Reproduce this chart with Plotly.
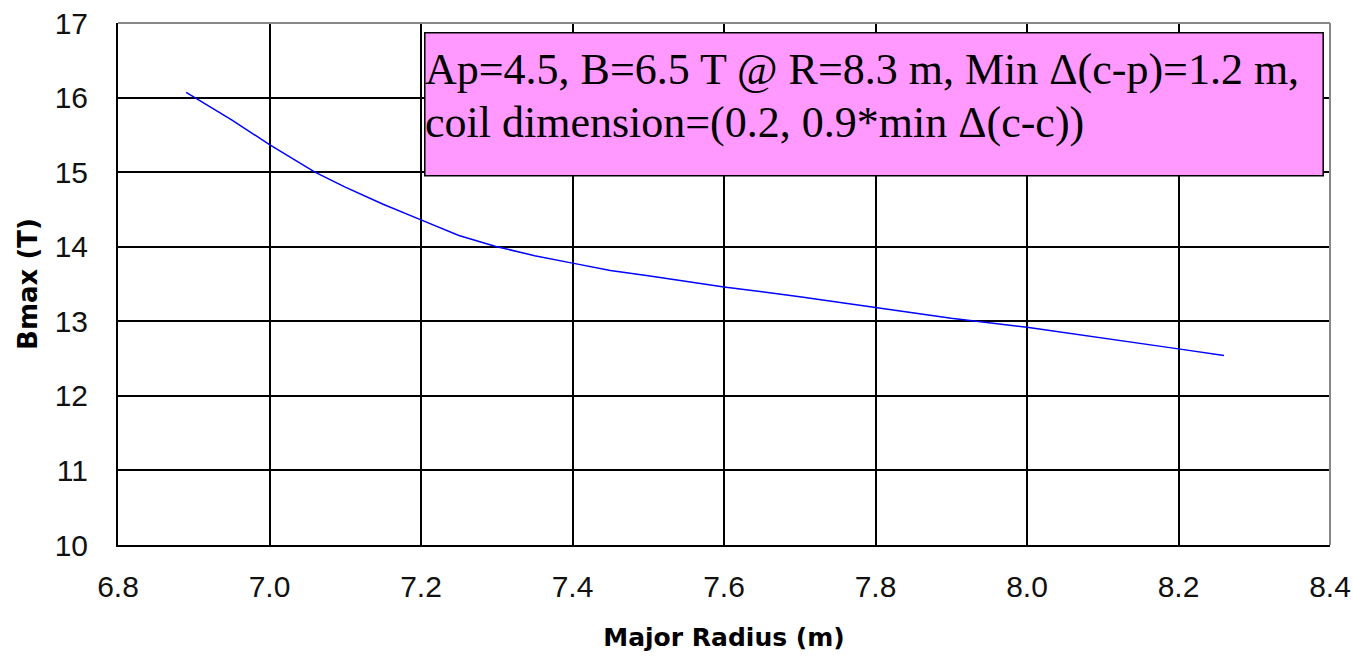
import plotly.graph_objects as go

radius = [6.89, 6.95, 7.0, 7.06, 7.1, 7.15, 7.2, 7.25, 7.3, 7.35, 7.4, 7.45, 7.5,
          7.6, 7.7, 7.8, 7.9, 8.0, 8.1, 8.2, 8.26]
bmax = [16.07, 15.70, 15.37, 15.0, 14.80, 14.57, 14.36, 14.15, 14.0, 13.88, 13.78, 13.68, 13.61,
        13.46, 13.33, 13.19, 13.04, 12.92, 12.78, 12.63, 12.54]

x_ticks = [6.8, 7.0, 7.2, 7.4, 7.6, 7.8, 8.0, 8.2, 8.4]
x_tick_labels = ["6.8", "7.0", "7.2", "7.4", "7.6", "7.8", "8.0", "8.2", "8.4"]
y_ticks = [10, 11, 12, 13, 14, 15, 16, 17]

note_line1 = "Ap=4.5, B=6.5 T @ R=8.3 m, Min \u0394(c-p)=1.2 m,"
note_line2 = "coil dimension=(0.2, 0.9*min \u0394(c-c))"

fig = go.Figure()
fig.add_trace(go.Scatter(x=radius, y=bmax, mode="lines",
                         line=dict(color="#0000FF", width=1.5), showlegend=False))

fig.add_shape(type="rect", xref="x", yref="y", x0=7.205, x1=8.391, y0=14.95, y1=16.87,
              fillcolor="#FF99FF", line=dict(color="black", width=1.5), layer="above")
fig.add_annotation(x=7.203, y=16.37, xref="x", yref="y", text=note_line1, showarrow=False,
                   xanchor="left", yanchor="middle",
                   font=dict(family="Liberation Serif", size=44, color="black"))
fig.add_annotation(x=7.203, y=15.67, xref="x", yref="y", text=note_line2, showarrow=False,
                   xanchor="left", yanchor="middle",
                   font=dict(family="Liberation Serif", size=44, color="black"))

fig.update_layout(
    width=1353, height=660,
    margin=dict(l=118, r=23, t=23, b=115, autoexpand=False),
    paper_bgcolor="white", plot_bgcolor="white",
    font=dict(family="Liberation Sans", size=30, color="#111"),
)
fig.update_xaxes(range=[6.8, 8.4], tickvals=x_ticks, ticktext=x_tick_labels,
                 showgrid=True, gridcolor="black", gridwidth=2,
                 showline=True, linecolor="black", linewidth=2, mirror=False,
                 zeroline=False, ticks="outside", ticklen=14, tickcolor="rgba(0,0,0,0)",
                 automargin=False, ticklabeloverflow="allow",
                 tickfont=dict(family="Liberation Sans", size=30, color="#111"),
                 title=dict(text="<b>Major Radius (m)</b>", standoff=26,
                            font=dict(family="DejaVu Sans", size=25, color="black")))
fig.update_yaxes(range=[10, 17], tickvals=y_ticks,
                 showgrid=True, gridcolor="black", gridwidth=2,
                 showline=True, linecolor="black", linewidth=2, mirror=False,
                 zeroline=False, ticks="outside", ticklen=22, tickcolor="rgba(0,0,0,0)",
                 automargin=False, ticklabeloverflow="allow",
                 tickfont=dict(family="Liberation Sans", size=30, color="#111"),
                 title=dict(text="<b>Bmax (T)</b>", standoff=10,
                            font=dict(family="DejaVu Sans", size=26, color="black")))
# gray border on top and right
fig.add_shape(type="line", xref="paper", yref="paper", x0=0, x1=1, y0=1, y1=1,
              line=dict(color="#888", width=2))
fig.add_shape(type="line", xref="paper", yref="paper", x0=1, x1=1, y0=0, y1=1,
              line=dict(color="#888", width=2))

fig.write_html("out.html", config={"displayModeBar": False},
               post_script="document.body.style.margin='0';")
